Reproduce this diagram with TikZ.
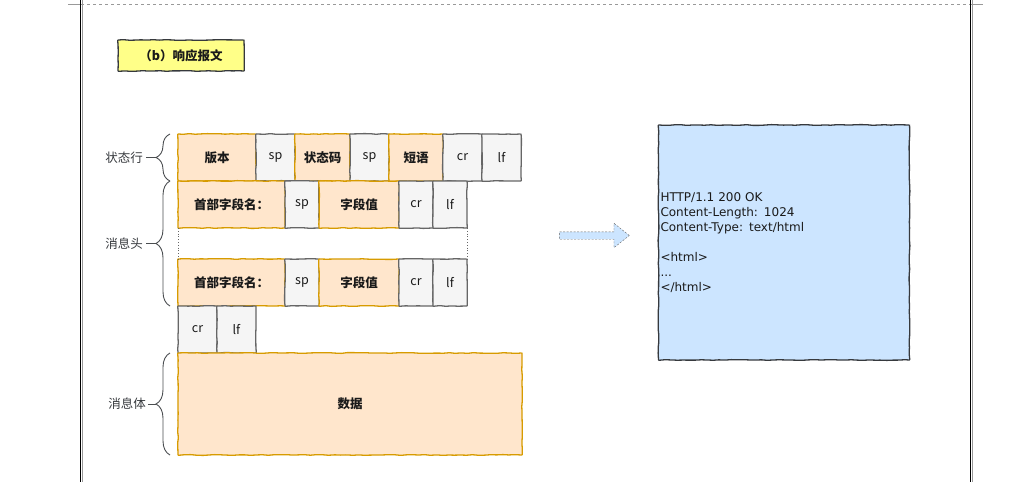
\documentclass[tikz,border=0pt]{standalone}
\usepackage{fontspec}
\setmainfont{Noto Sans CJK SC}
\newfontfamily\codefont{DejaVu Sans}
\usepackage{tikz}
\usetikzlibrary{positioning,calc,shapes.arrows,decorations.pathreplacing,decorations.pathmorphing}
\definecolor{hdrbg}{HTML}{FFE6CC}
\definecolor{hdrline}{HTML}{D79B00}
\definecolor{ctlbg}{HTML}{F5F5F5}
\definecolor{ctlline}{HTML}{666666}
\definecolor{ttlbg}{HTML}{FFFF88}
\definecolor{inkline}{HTML}{36393D}
\definecolor{msgbg}{HTML}{CCE5FF}
\definecolor{txt}{HTML}{1A1A1A}
\tikzset{
  sketch/.style = {decorate, decoration={random steps, segment length=6pt, amplitude=0.4pt},
                   rounded corners=0.6pt},
  cell/.style   = {rectangle, draw, line width=1.3pt, minimum height=47pt, inner sep=0pt,
                   outer sep=0pt, text=txt, font=\fontsize{12.5}{14}\selectfont, sketch},
  hdr/.style    = {cell, draw=hdrline, fill=hdrbg, font=\fontsize{12.5}{14}\selectfont\bfseries},
  ctl/.style    = {cell, draw=ctlline, fill=ctlbg},
  ttl/.style    = {rectangle, draw=inkline, fill=ttlbg, line width=1.3pt, minimum width=126pt,
                   minimum height=31pt, text=txt, font=\fontsize{12.5}{14}\selectfont\bfseries, sketch},
  msgbox/.style = {rectangle, draw=inkline, fill=msgbg, line width=1.3pt, text width=247pt,
                   inner xsep=2pt, minimum height=235pt, align=left, text=txt,
                   font=\codefont\fontsize{12}{15}\selectfont, sketch},
  fatarrow/.style = {single arrow, draw=ctlline, dashed, dash pattern=on 2pt off 1.5pt,
                   fill=msgbg, minimum height=70pt, inner sep=3.5pt,
                   single arrow head extend=8.5pt, single arrow tip angle=77},
  brc/.style    = {draw=inkline!90, line width=0.9pt},
  brace/.style  = {brc, decorate, decoration={brace, amplitude=14pt}},
  lbl/.style    = {inner sep=2pt, text=inkline, font=\fontsize{12.5}{14}\selectfont},
  frame/.style  = {line width=1.3pt, draw=black},
  framegray/.style = {line width=0.8pt, draw=gray!80},
}
\pgfmathsetseed{11}

\begin{document}
\begin{tikzpicture}[x=1pt,y=-1pt]
\useasboundingbox (0,0) rectangle (1022,482);

% --- page frame
\draw[framegray] (68,4.3) -- (81,4.3);
\draw[framegray, dashed, dash pattern=on 3pt off 3pt] (81,4.3) -- (970,4.3);
\draw[framegray] (970,4.3) -- (983,4.3);
\draw[frame] (80.7,0) -- (80.7,482);
\draw[framegray] (82.2,0) -- (82.2,482);
\draw[frame] (970.7,0) -- (970.7,482);
\draw[framegray] (972.3,0) -- (972.3,482);

% --- title
\node[ttl] (title) at (181,55.5) {（b）响应报文};

% --- status line
\node[hdr, minimum width=78pt, anchor=north west] (ver) at (178,134) {版本};
\node[ctl, minimum width=39pt, right=0pt of ver] (sp1) {sp};
\node[hdr, minimum width=55pt, right=0pt of sp1] (code) {状态码};
\node[ctl, minimum width=39pt, right=0pt of code] (sp2) {sp};
\node[hdr, minimum width=54pt, right=0pt of sp2] (phrase) {短语};
\node[ctl, minimum width=39pt, right=0pt of phrase] (cr1) {cr};
\node[ctl, minimum width=39pt, right=0pt of cr1] (lf1) {lf};

% --- header lines
\node[hdr, minimum width=107pt, below=0pt of ver.south west, anchor=north west] (name1) {首部字段名：};
\node[ctl, minimum width=34pt, right=0pt of name1] (hsp1) {sp};
\node[hdr, minimum width=80pt, right=0pt of hsp1] (val1) {字段值};
\node[ctl, minimum width=34pt, right=0pt of val1] (hcr1) {cr};
\node[ctl, minimum width=34pt, right=0pt of hcr1] (hlf1) {lf};

\node[hdr, minimum width=107pt, below=31pt of name1.south west, anchor=north west] (name2) {首部字段名：};
\node[ctl, minimum width=34pt, right=0pt of name2] (hsp2) {sp};
\node[hdr, minimum width=80pt, right=0pt of hsp2] (val2) {字段值};
\node[ctl, minimum width=34pt, right=0pt of val2] (hcr2) {cr};
\node[ctl, minimum width=34pt, right=0pt of hcr2] (hlf2) {lf};

\draw[ctlline, line width=0.8pt, dotted] (name1.south west) -- (name2.north west);
\draw[ctlline, line width=0.8pt, dotted] (hlf1.south east) -- (hlf2.north east);

% --- empty line + body
\node[ctl, minimum width=39pt, below=0pt of name2.south west, anchor=north west] (ecr) {cr};
\node[ctl, minimum width=39pt, right=0pt of ecr] (elf) {lf};
\node[hdr, minimum width=344pt, minimum height=102pt, below=0pt of ecr.south west, anchor=north west] (body) {数据};

% --- braces
\draw[brace] ([xshift=-8pt]ver.south west) -- ([xshift=-8pt]ver.north west);
\draw[brace] ([xshift=-8pt]name2.south west) -- ([xshift=-8pt]name1.north west);
\draw[brace] ([xshift=-8pt]body.south west) -- ([xshift=-8pt]body.north west);
\coordinate (tip1) at ([xshift=-22pt]ver.west);
\coordinate (tip2) at ($(name1.north west)!0.5!(name2.south west) + (-22pt,0)$);
\coordinate (tip3) at ([xshift=-22pt]body.west);
\node[lbl, left=11pt of tip1] (lstat) {状态行};
\node[lbl, left=11pt of tip2] (lhead) {消息头};
\node[lbl, left=8pt of tip3] (lbody) {消息体};
\draw[brc] ([xshift=1pt]lstat.east) -- (tip1);
\draw[brc] ([xshift=1pt]lhead.east) -- (tip2);
\draw[brc] (lbody) -- (tip3);

% --- example message
\node[fatarrow] (arr) at (592,235.5) {};
\node[msgbox] (msg) at (784,242.5) {HTTP/1.1 200 OK\\Content-Length: 1024\\Content-Type: text/html\\\mbox{}\\<html>\\...\\</html>};

\end{tikzpicture}
\end{document}
